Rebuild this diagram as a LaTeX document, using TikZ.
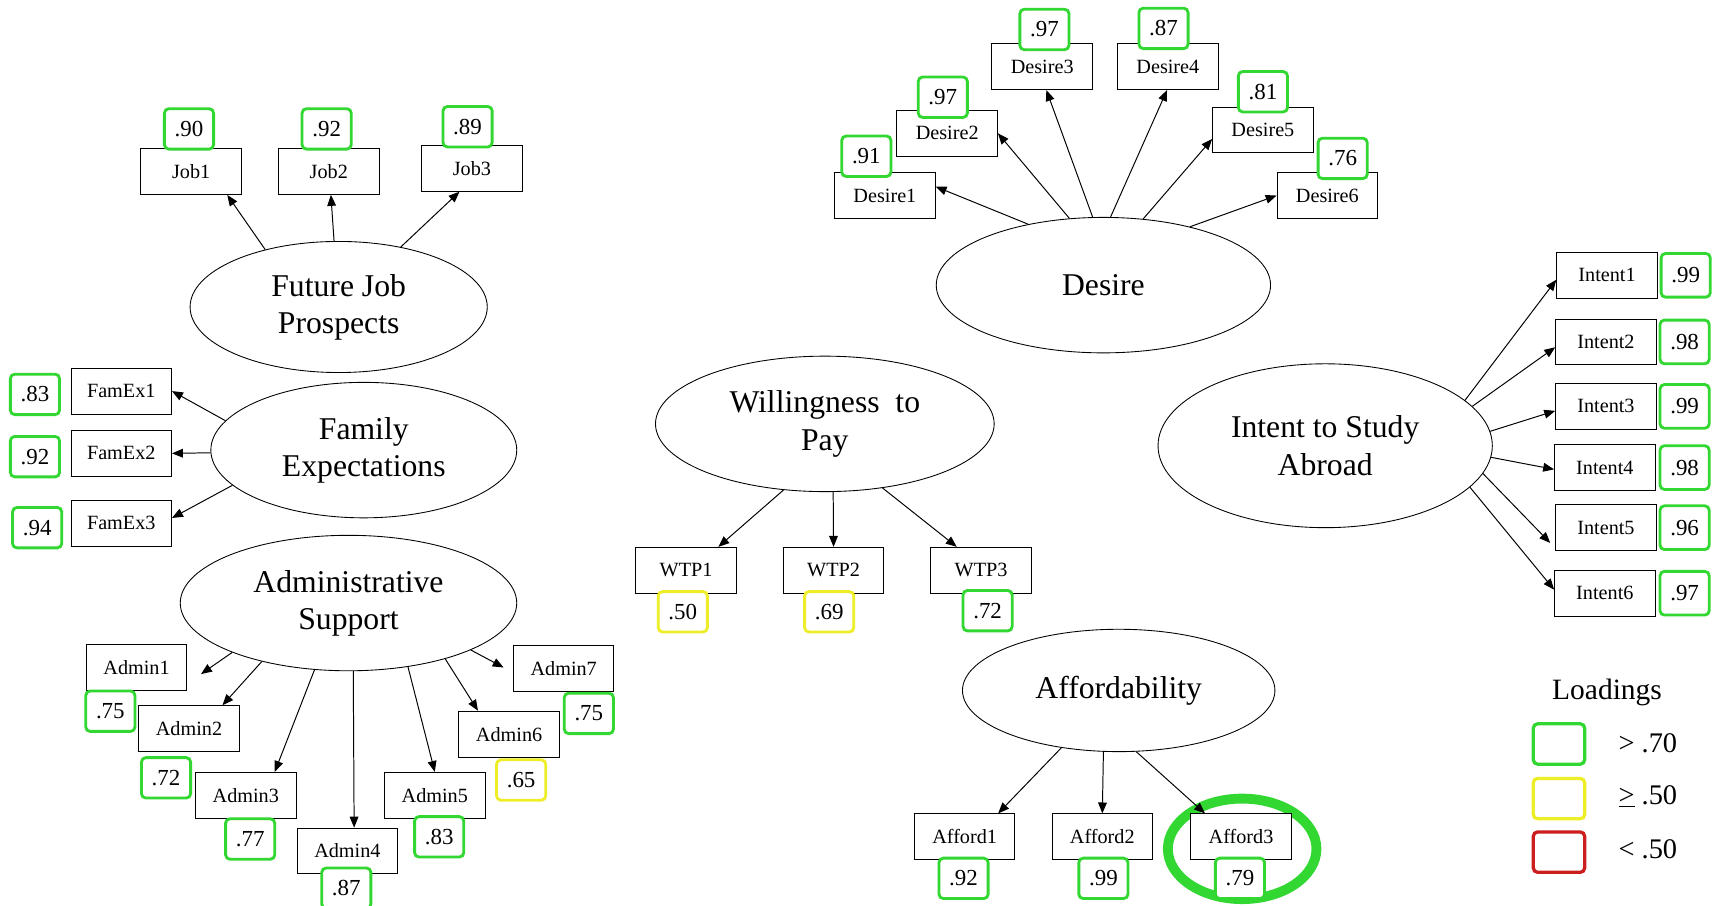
\documentclass[tikz,border=0pt]{standalone}
\usepackage{fontspec}
\setmainfont{Liberation Serif}
\usetikzlibrary{arrows.meta,shapes.geometric}
\definecolor{lgreen}{RGB}{50,215,50}
\definecolor{lyellow}{RGB}{238,238,40}
\definecolor{lred}{RGB}{205,30,30}
\begin{document}
\begin{tikzpicture}[x=1pt,y=-1pt,
 latent/.style={ellipse, draw, line width=0.8pt, inner sep=0pt, align=center, font=\fontsize{29}{34}\selectfont},
 obs/.style={draw, fill=white, line width=0.9pt, minimum width=92pt, minimum height=42pt, inner sep=0pt, font=\fontsize{18.5}{18.5}\selectfont},
 lab/.style={draw=lgreen, fill=white, rounded corners=4pt, line width=2.6pt, minimum width=45pt, minimum height=37pt, inner sep=0pt, font=\fontsize{21}{21}\selectfont},
 laby/.style={lab, draw=lyellow},
 labr/.style={lab, draw=lred},
 arr/.style={-{Triangle[length=10pt,width=8pt]}, line width=0.9pt},
 legtext/.style={anchor=west, font=\fontsize{26}{26}\selectfont},
]
\useasboundingbox (0,0) rectangle (1568,829);

% ---------- Future Job Prospects ----------
\node[latent, minimum width=272pt, minimum height=120pt] (fjp) at (310,281) {Future Job\\Prospects};
\node[obs] (job1) at (175,157) {Job1};
\node[obs] (job2) at (301,157) {Job2};
\node[obs] (job3) at (432,154) {Job3};
\node[lab] (ljob1) at (173,118) {.90};
\node[lab] (ljob2) at (299,118) {.92};
\node[lab] (ljob3) at (428,116) {.89};
\draw[arr] (fjp.142.6) -- (job1.-33);
\draw[arr] (fjp.94.8) -- (job2.-85);
\draw[arr] (fjp.44.3) -- (job3.242);

% ---------- Family Expectations ----------
\node[latent, minimum width=280pt, minimum height=124pt] (fe) at (333,412) {Family\\Expectations};
\node[obs] (fam1) at (111,358) {FamEx1};
\node[obs] (fam2) at (111,415) {FamEx2};
\node[obs] (fam3) at (111,479) {FamEx3};
\node[lab] (lfam1) at (32,361) {.83};
\node[lab] (lfam2) at (32,418) {.92};
\node[lab] (lfam3) at (34,483) {.94};
\draw[arr] (fe.168.9) -- (fam1.east);
\draw[arr] (fe.181) -- (fam2.east);
\draw[arr] (fe.195.6) -- (fam3.6);

% ---------- Administrative Support ----------
\node[latent, minimum width=308pt, minimum height=124pt] (adm) at (319,552) {Administrative\\Support};
\node[obs] (adm1) at (125,611) {Admin1};
\node[obs] (adm2) at (173,667) {Admin2};
\node[obs] (adm3) at (225,728) {Admin3};
\node[obs] (adm4) at (318,779) {Admin4};
\node[obs] (adm5) at (398,728) {Admin5};
\node[obs] (adm6) at (466,672) {Admin6};
\node[obs] (adm7) at (516,612) {Admin7};
\node[lab] (ladm1) at (101,651) {.75};
\node[lab] (ladm2) at (152,712) {.72};
\node[lab] (ladm3) at (229,768) {.77};
\node[lab] (ladm4) at (317,813) {.87};
\node[lab] (ladm5) at (402,766) {.83};
\node[laby] (ladm6) at (477,714) {.65};
\node[lab] (ladm7) at (539,653) {.75};
\coordinate (a1tip) at (184,617);
\coordinate (a7tip) at (461,611);
\draw[arr] (adm.203) -- (a1tip);
\draw[arr] (adm.214.4) -- (adm2.35);
\draw[arr] (adm.243.7) -- (adm3.39);
\draw[arr] (adm.274.6) -- (adm4.74);
\draw[arr] (adm.313) -- (adm5.north);
\draw[arr] (adm.330.8) -- (adm6.143);
\draw[arr] (adm.339.6) -- (a7tip);

% ---------- Desire ----------
\node[latent, minimum width=306pt, minimum height=124pt] (des) at (1010,261) {Desire};
\node[obs] (des1) at (810,179) {Desire1};
\node[obs] (des2) at (867,122) {Desire2};
\node[obs] (des3) at (954,61) {Desire3};
\node[obs] (des4) at (1069,61) {Desire4};
\node[obs] (des5) at (1156,119) {Desire5};
\node[obs] (des6) at (1215,179) {Desire6};
\node[lab] (ldes1) at (793,143) {.91};
\node[lab] (ldes2) at (863,89) {.97};
\node[lab] (ldes3) at (956,27) {.97};
\node[lab] (ldes4) at (1065,26) {.87};
\node[lab] (ldes5) at (1156,84) {.81};
\node[lab] (ldes6) at (1229,145) {.76};
\draw[arr] (des.141.8) -- (des1.10);
\draw[arr] (des.117.8) -- (des2.east);
\draw[arr] (des.99.2) -- (des3.-80);
\draw[arr] (des.84.5) -- (des4.-92);
\draw[arr] (des.59.2) -- (des5.190);
\draw[arr] (des.34.3) -- (des6.west);

% ---------- Willingness to Pay ----------
\node[latent, minimum width=310pt, minimum height=124pt] (wtp) at (755,388) {Willingness\ \ to\\Pay};
\node[obs] (wtp1) at (628,522) {WTP1};
\node[obs] (wtp2) at (763,522) {WTP2};
\node[obs] (wtp3) at (898,522) {WTP3};
\node[laby] (lwtp1) at (625,560) {.50};
\node[laby] (lwtp2) at (759,560) {.69};
\node[lab] (lwtp3) at (904,559) {.72};
\draw[arr] (wtp.238.4) -- (wtp1.36);
\draw[arr] (wtp.277.4) -- (wtp2.north);
\draw[arr] (wtp.312.3) -- (wtp3.136);

% ---------- Affordability ----------
\node[latent, minimum width=286pt, minimum height=112pt] (aff) at (1024,632) {Affordability};
\node[ellipse, draw=lgreen, line width=9pt, minimum width=136pt, minimum height=92pt, inner sep=0pt] (hl) at (1137,777) {};
\node[obs] (aff1) at (883,766) {Afford1};
\node[obs] (aff2) at (1009,766) {Afford2};
\node[obs] (aff3) at (1136,766) {Afford3};
\node[lab] (laff1) at (882,804) {.92};
\node[lab] (laff2) at (1010,804) {.99};
\node[lab] (laff3) at (1135,804) {.79};
\draw[arr] (aff.225.1) -- (aff1.35);
\draw[arr] (aff.256.9) -- (aff2.north);
\draw[arr] (aff.286) -- (aff3.147.5);

% ---------- Intent to Study Abroad ----------
\node[latent, minimum width=306pt, minimum height=150pt] (int) at (1213,408) {Intent to Study\\Abroad};
\node[obs] (int1) at (1471,252) {Intent1};
\node[obs] (int2) at (1470,313) {Intent2};
\node[obs] (int3) at (1470,372) {Intent3};
\node[obs] (int4) at (1469,428) {Intent4};
\node[obs] (int5) at (1470,483) {Intent5};
\node[obs] (int6) at (1469,543) {Intent6};
\node[lab, minimum height=40pt] (lint1) at (1543,252) {.99};
\node[lab, minimum height=40pt] (lint2) at (1542,313) {.98};
\node[lab, minimum height=40pt] (lint3) at (1542,372) {.99};
\node[lab, minimum height=40pt] (lint4) at (1542,428) {.98};
\node[lab, minimum height=40pt] (lint5) at (1542,483) {.96};
\node[lab, minimum height=40pt] (lint6) at (1542,543) {.97};
\draw[arr] (int.18.5) -- (int1.185);
\draw[arr] (int.15.5) -- (int2.186);
\draw[arr] (int.5.6) -- (int3.185);
\draw[arr] (int.-4.5) -- (int4.182);
\coordinate (i5tip) at (1419,497);
\draw[arr] (int.-10.6) -- (i5tip);
\draw[arr] (int.-16.9) -- (int6.176);

% ---------- Legend ----------
\node[font=\fontsize{27}{27}\selectfont] (legtitle) at (1471,634) {Loadings};
\node[lab, minimum width=47pt, minimum height=37pt, line width=3pt] (leg1) at (1427,681) {};
\node[laby, minimum width=47pt, minimum height=37pt, line width=3pt] (leg2) at (1427,731) {};
\node[labr, minimum width=47pt, minimum height=37pt, line width=3pt] (leg3) at (1427,780) {};
\node[legtext] (legt1) at (1478,680) {>\ .70};
\node[legtext] (legt2) at (1478,729) {\underline{>}\ .50};
\node[legtext] (legt3) at (1478,777) {<\ .50};
\end{tikzpicture}
\end{document}
